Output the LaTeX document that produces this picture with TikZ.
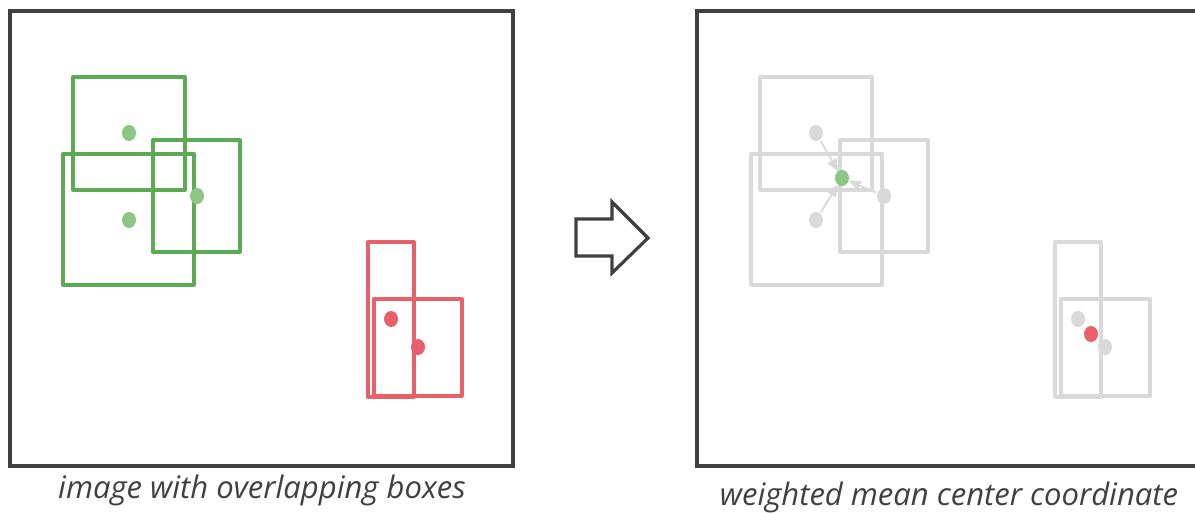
\documentclass[tikz,border=0pt]{standalone}
\usepackage{fontspec}
\setmainfont{Open Sans}
\usetikzlibrary{arrows.meta,shapes.geometric}
\definecolor{frameC}{HTML}{404040}
\definecolor{boxG}{HTML}{5DAA55}
\definecolor{dotG}{HTML}{8CC684}
\definecolor{boxR}{HTML}{EA6068}
\definecolor{dotR}{HTML}{E8606A}
\definecolor{grayC}{HTML}{D9D9D9}
\tikzset{
  frame/.style={draw=frameC, line width=3.2pt},
  gbox/.style={draw=boxG, line width=3.3pt, line join=round},
  rbox/.style={draw=boxR, line width=3.3pt, line join=round},
  xbox/.style={draw=grayC, line width=3.3pt, line join=round},
  dot/.style={ellipse, inner sep=0pt, minimum width=14pt, minimum height=16pt, draw=none},
  gdot/.style={dot, fill=dotG},
  rdot/.style={dot, fill=dotR},
  xdot/.style={dot, fill=grayC},
  pull/.style={draw=grayC, line width=1.8pt, -{Triangle[length=12pt,width=10pt]}, shorten <=1pt},
  caption/.style={font=\fontsize{31}{36}\selectfont\itshape, text=frameC, inner sep=0pt},
  bigarrow/.style={draw=frameC, line width=3.2pt, line join=miter}
}
\begin{document}
\begin{tikzpicture}[x=1pt,y=-1pt]
\useasboundingbox (0,0) rectangle (1195,513);
% left panel
\draw[frame] (10,11) rectangle (513,466);
\draw[gbox] (73,77) rectangle (185,190);
\draw[gbox] (63,154) rectangle (194,285);
\draw[gbox] (153,140) rectangle (240,252);
\node[gdot] (l1) at (129,133) {};
\node[gdot] (l2) at (197,196) {};
\node[gdot] (l3) at (129,220) {};
\draw[rbox] (368,242) rectangle (414,397);
\draw[rbox] (374,299) rectangle (462,396);
\node[rdot] (l4) at (391,319) {};
\node[rdot] (l5) at (418,347) {};
\node[caption] (capL) at (262,490) {image with overlapping boxes};
% big arrow
\draw[bigarrow] (576,219) -- (612,219) -- (612,202) -- (648,238) -- (612,273) -- (612,256) -- (576,256) -- cycle;
% right panel
\draw[frame] (1197,11) -- (697,11) -- (697,466) -- (1197,466);
\draw[xbox] (760,77) rectangle (872,190);
\draw[xbox] (751,154) rectangle (882,285);
\draw[xbox] (840,140) rectangle (928,252);
\node[xdot] (r1) at (816,133) {};
\node[xdot] (r2) at (884,196) {};
\node[xdot] (r3) at (816,220) {};
\node[gdot] (m) at (842,178) {};
\draw[pull] (r1) -- (m);
\draw[pull] (r2) -- (m);
\draw[pull] (r3) -- (m);
\draw[xbox] (1055,242) rectangle (1101,397);
\draw[xbox] (1061,299) rectangle (1150,396);
\node[xdot] (r4) at (1078,319) {};
\node[xdot] (r5) at (1105,347) {};
\node[rdot] (mr) at (1091,334) {};
\node[caption] (capR) at (949,497) {weighted mean center coordinate};
\end{tikzpicture}
\end{document}
